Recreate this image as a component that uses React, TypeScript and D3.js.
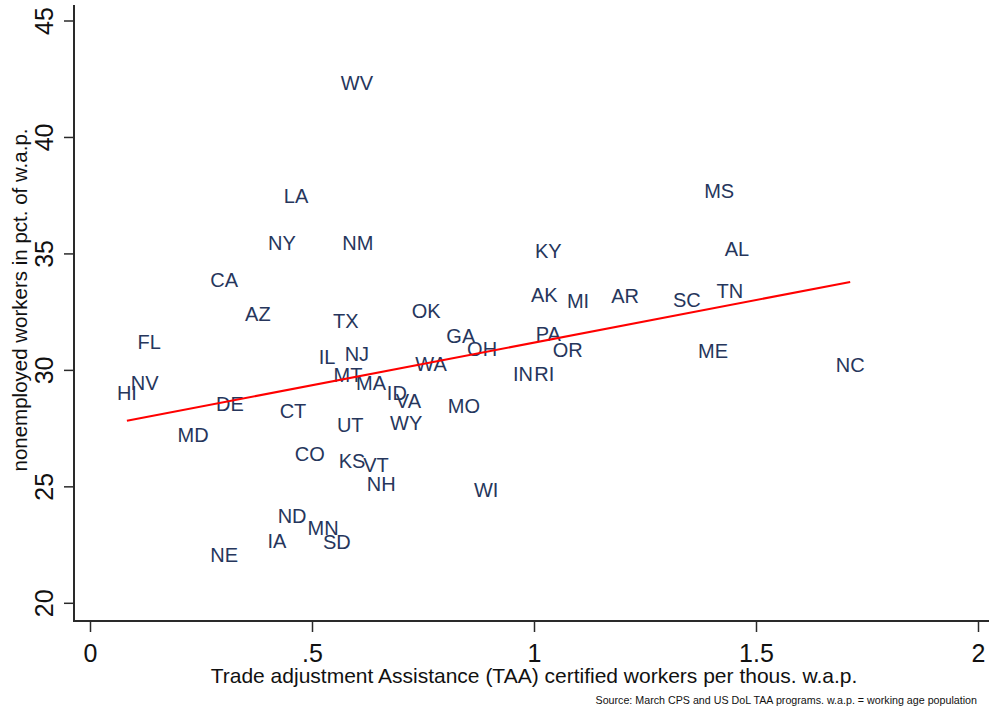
import React from "react";
import * as d3 from "d3";

// ---- data ----
const states = ["WV","LA","NY","NM","CA","AZ","TX","OK","GA","OH","FL","IL","NJ","WA","MT","MA","ID","VA","MO","NV","HI","DE","CT","UT","WY","MD","CO","KS","VT","NH","WI","ND","MN","IA","SD","NE","KY","AK","MI","AR","SC","TN","AL","MS","PA","OR","IN","RI","ME","NC"];
const taaRate = [0.60,0.463,0.431,0.602,0.301,0.377,0.575,0.756,0.834,0.882,0.132,0.533,0.60,0.767,0.58,0.632,0.69,0.716,0.841,0.122,0.082,0.314,0.456,0.585,0.711,0.231,0.494,0.589,0.643,0.655,0.891,0.454,0.524,0.42,0.555,0.301,1.031,1.022,1.098,1.204,1.343,1.44,1.456,1.416,1.031,1.075,0.974,1.022,1.402,1.711];
const nonEmp = [42.34,37.5,35.49,35.49,33.9,32.44,32.14,32.57,31.5,30.94,31.24,30.6,30.7,30.3,29.79,29.45,29.02,28.68,28.5,29.45,29.02,28.55,28.25,27.65,27.77,27.22,26.4,26.1,25.93,25.12,24.86,23.75,23.24,22.68,22.63,22.07,35.15,33.26,33.0,33.2,33.05,33.43,35.23,37.71,31.55,30.9,29.87,29.87,30.86,30.26];

const xTicks = [0, 0.5, 1, 1.5, 2];
const xTickLabels = ["0", ".5", "1", "1.5", "2"];
const yTicks = [20, 25, 30, 35, 40, 45];
const yTickLabels = ["20", "25", "30", "35", "40", "45"];

const xTitle = "Trade adjustment Assistance (TAA) certified workers per thous. w.a.p.";
const yTitle = "nonemployed workers in pct. of w.a.p.";
const note = "Source: March CPS and US DoL TAA programs. w.a.p. = working age population";

const FONT = "'Liberation Sans', Arial, Helvetica, sans-serif";

export default function App() {
  const W = 989, H = 713;
  const x = d3.scaleLinear().domain([0, 2]).range([90.5, 978.5]);
  const y = d3.scaleLinear().domain([20, 45]).range([603.3, 21]);
  const axisX = 74, axisY = 621;

  // linear fit
  const n = taaRate.length;
  const mx = d3.mean(taaRate)!;
  const my = d3.mean(nonEmp)!;
  let sxy = 0, sxx = 0;
  for (let i = 0; i < n; i++) {
    sxy += (taaRate[i] - mx) * (nonEmp[i] - my);
    sxx += (taaRate[i] - mx) ** 2;
  }
  const slope = sxy / sxx;
  const icpt = my - slope * mx;
  const [xmin, xmax] = d3.extent(taaRate) as [number, number];
  const fitLine = d3.line<number>().x((d) => x(d)).y((d) => y(icpt + slope * d));

  const axisColor = "#2a2a2a";
  const labelColor = "#26365c";

  return (
    <svg width={W} height={H} style={{ position: "absolute", left: 0, top: 0, background: "#fff" }} fontFamily={FONT}>
      <rect x={0} y={0} width={W} height={H} fill="#fff" />
      {/* axes */}
      <line x1={axisX} x2={axisX} y1={5} y2={axisY} stroke={axisColor} strokeWidth={2} />
      <line x1={axisX - 1} x2={W} y1={axisY} y2={axisY} stroke={axisColor} strokeWidth={2} />
      {yTicks.map((t, i) => (
        <g key={"yt" + i}>
          <line x1={axisX - 10} x2={axisX} y1={y(t)} y2={y(t)} stroke={axisColor} strokeWidth={1.5} />
          <text transform={`translate(53,${y(t)}) rotate(-90)`} textAnchor="middle" fontSize={25} fill="#111">{yTickLabels[i]}</text>
        </g>
      ))}
      {xTicks.map((t, i) => (
        <g key={"xt" + i}>
          <line x1={x(t)} x2={x(t)} y1={axisY} y2={axisY + 11} stroke={axisColor} strokeWidth={1.5} />
          <text x={x(t)} y={662} textAnchor="middle" fontSize={25} fill="#111">{xTickLabels[i]}</text>
        </g>
      ))}
      {/* titles */}
      <text x={534} y={683} textAnchor="middle" fontSize={21} fill="#111">{xTitle}</text>
      <text transform={`translate(27,300) rotate(-90)`} textAnchor="middle" fontSize={20.5} fill="#111">{yTitle}</text>
      <text x={977} y={704} textAnchor="end" fontSize={10.7} fill="#111">{note}</text>
      {/* labels */}
      {states.map((s, i) => (
        <text key={s} x={x(taaRate[i])} y={y(nonEmp[i]) + 7.2} textAnchor="middle" fontSize={20} fill={labelColor}>{s}</text>
      ))}
      {/* fit line */}
      <path d={fitLine([xmin, xmax]) || ""} fill="none" stroke="#ff0000" strokeWidth={2} />
    </svg>
  );
}
